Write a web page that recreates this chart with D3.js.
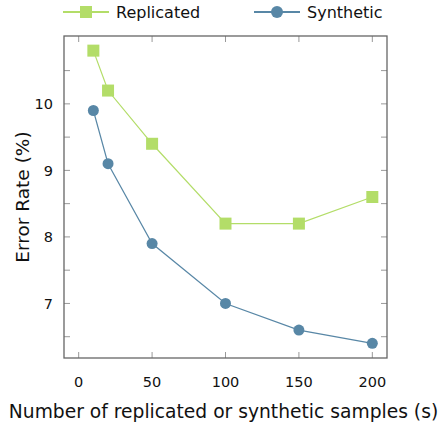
<html>
<head>
<meta charset="utf-8">
<script src="https://d3js.org/d3.v7.min.js"></script>
<style>
  body { margin: 0; background: #fff; }
  text { font-family: "DejaVu Sans", sans-serif; fill: #111; }
</style>
</head>
<body>
<svg width="440" height="426"></svg>
<script>
var samples = [10, 20, 50, 100, 150, 200];
var replicated = [10.8, 10.2, 9.4, 8.2, 8.2, 8.6];
var synthetic = [9.9, 9.1, 7.9, 7.0, 6.6, 6.4];
var xTicks = [0, 50, 100, 150, 200];
var yTicks = [7, 8, 9, 10];
var yMinor = [6.5, 7.5, 8.5, 9.5, 10.5];

var green = "#b3dd68", blue = "#5887a6";

var svg = d3.select("svg"),
    pLeft = 64, pRight = 387, pTop = 36, pBottom = 358;

var x = d3.scaleLinear().domain([-10, 210]).range([pLeft, pRight]);
var y = d3.scaleLinear().domain([6.18, 11.02]).range([pBottom, pTop]);

// inward ticks on all four sides
var tickColor = "#999", tickLen = 6;
var g = svg.append("g");
xTicks.forEach(function (t) {
  g.append("line").attr("x1", x(t)).attr("x2", x(t)).attr("y1", pBottom).attr("y2", pBottom - tickLen).attr("stroke", tickColor);
  g.append("line").attr("x1", x(t)).attr("x2", x(t)).attr("y1", pTop).attr("y2", pTop + tickLen).attr("stroke", tickColor);
  svg.append("text").attr("x", x(t)).attr("y", pBottom + 29).attr("text-anchor", "middle").attr("font-size", 14.5).text(t);
});
yTicks.concat(yMinor).forEach(function (t) {
  g.append("line").attr("x1", pLeft).attr("x2", pLeft + tickLen).attr("y1", y(t)).attr("y2", y(t)).attr("stroke", tickColor);
  g.append("line").attr("x1", pRight).attr("x2", pRight - tickLen).attr("y1", y(t)).attr("y2", y(t)).attr("stroke", tickColor);
});
yTicks.forEach(function (t) {
  svg.append("text").attr("x", pLeft - 11).attr("y", y(t)).attr("dy", "0.36em").attr("text-anchor", "end").attr("font-size", 14.5).text(t);
});

svg.append("rect").attr("x", pLeft).attr("y", pTop).attr("width", pRight - pLeft).attr("height", pBottom - pTop)
  .attr("fill", "none").attr("stroke", "#666").attr("stroke-width", 1.3);

var line = d3.line().x(function (d) { return x(d[0]); }).y(function (d) { return y(d[1]); });
var rep = d3.zip(samples, replicated), syn = d3.zip(samples, synthetic);

svg.append("path").datum(rep).attr("d", line).attr("fill", "none").attr("stroke", green).attr("stroke-width", 1.2);
svg.append("path").datum(syn).attr("d", line).attr("fill", "none").attr("stroke", blue).attr("stroke-width", 1.2);

svg.selectAll(".sq").data(rep).enter().append("rect")
  .attr("x", function (d) { return x(d[0]) - 6; }).attr("y", function (d) { return y(d[1]) - 6; })
  .attr("width", 12).attr("height", 12).attr("fill", green);
svg.selectAll(".ci").data(syn).enter().append("circle")
  .attr("cx", function (d) { return x(d[0]); }).attr("cy", function (d) { return y(d[1]); })
  .attr("r", 5.5).attr("fill", blue);

// axis titles
svg.append("text").attr("x", 223.5).attr("y", 418).attr("text-anchor", "middle")
  .attr("font-size", 18.7).text("Number of replicated or synthetic samples (s)");
svg.append("text").attr("transform", "translate(29," + ((pTop + pBottom) / 2) + ") rotate(-90)")
  .attr("text-anchor", "middle").attr("font-size", 18.5).text("Error Rate (%)");

// legend
var leg = [{ name: "Replicated", color: green, x: 63, shape: "square" },
           { name: "Synthetic", color: blue, x: 254, shape: "circle" }];
leg.forEach(function (l) {
  svg.append("line").attr("x1", l.x).attr("x2", l.x + 46).attr("y1", 12).attr("y2", 12)
    .attr("stroke", l.color).attr("stroke-width", 2);
  if (l.shape === "square")
    svg.append("rect").attr("x", l.x + 17).attr("y", 6).attr("width", 12).attr("height", 12).attr("fill", l.color);
  else
    svg.append("circle").attr("cx", l.x + 23).attr("cy", 12).attr("r", 6).attr("fill", l.color);
  svg.append("text").attr("x", l.x + 53).attr("y", 12).attr("dy", "0.36em").attr("font-size", 16).text(l.name);
});
</script>
</body>
</html>
